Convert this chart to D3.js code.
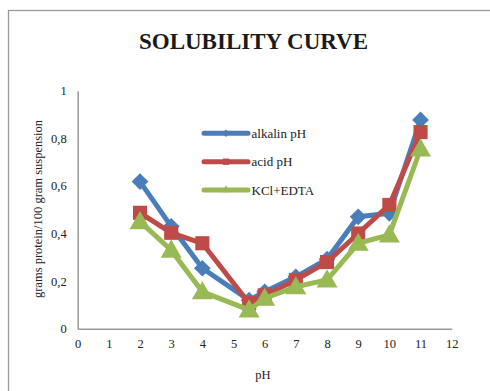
<!DOCTYPE html>
<html>
<head>
<meta charset="utf-8">
<script src="https://cdn.jsdelivr.net/npm/d3@7"></script>
<style>
  html, body { margin: 0; padding: 0; background: #fff; }
  svg { display: block; }
</style>
</head>
<body>
<svg id="chart" width="490" height="391"></svg>
<script>
// pH values at which solubility was measured
const phValues = [2, 3, 4, 5.5, 6, 7, 8, 9, 10, 11];
// grams protein / 100 gram suspension for each extraction
const alkalinValues = [0.618, 0.43, 0.254, 0.12, 0.155, 0.218, 0.292, 0.47, 0.485, 0.877];
const acidValues    = [0.487, 0.403, 0.359, 0.107, 0.14, 0.205, 0.28, 0.40, 0.52, 0.826];
const kclEdtaValues = [0.45, 0.33, 0.155, 0.079, 0.128, 0.176, 0.205, 0.359, 0.394, 0.755];
const seriesNames = ["alkalin pH", "acid pH", "KCl+EDTA"];
const xTicks = [0, 1, 2, 3, 4, 5, 6, 7, 8, 9, 10, 11, 12];
const yTicks = [0, 0.2, 0.4, 0.6, 0.8, 1];

const svg = d3.select("#chart");
const font = "'Liberation Serif', 'Times New Roman', serif";

// chart area frame
svg.append("rect")
  .attr("x", 8.5).attr("y", 10.5)
  .attr("width", 500).attr("height", 400)
  .attr("fill", "#fff").attr("stroke", "#9a9a9a").attr("stroke-width", 1.3);

const x = d3.scaleLinear().domain([0, 12]).range([77.7, 451.7]);
const y = d3.scaleLinear().domain([0, 1]).range([328.7, 90.7]);

svg.append("text")
  .attr("x", 253.5).attr("y", 49)
  .attr("text-anchor", "middle")
  .attr("font-family", font).attr("font-weight", "bold").attr("font-size", 23)
  .attr("fill", "#1a1a1a")
  .text("SOLUBILITY CURVE");

// axes
const fmt = d => d === 0 || d === 1 ? String(d) : d.toFixed(1).replace(".", ",");
const yAxis = svg.append("g").attr("transform", `translate(${x(0)},0)`)
  .call(d3.axisLeft(y).tickValues(yTicks).tickSize(0).tickPadding(11).tickFormat(fmt));
const xAxis = svg.append("g").attr("transform", `translate(0,${y(0)})`)
  .call(d3.axisBottom(x).tickValues(xTicks).tickSize(0).tickPadding(10).tickFormat(d3.format("d")));
[xAxis, yAxis].forEach(g => {
  g.select(".domain").attr("stroke", "#9a9a9a").attr("stroke-width", 1.5);
  g.selectAll("text").attr("font-family", font).attr("font-size", 12.5).attr("fill", "#222");
});

svg.append("text")
  .attr("transform", `translate(42,209) rotate(-90)`)
  .attr("text-anchor", "middle")
  .attr("font-family", font).attr("font-size", 12.5).attr("fill", "#222")
  .text("grams protein/100 gram suspension");

svg.append("text")
  .attr("x", 263).attr("y", 379)
  .attr("text-anchor", "middle")
  .attr("font-family", font).attr("font-size", 12.5).attr("fill", "#222")
  .text("pH");

const colors = ["#4A7EBB", "#BE4B48", "#98B954"];
// diamond = square turned 45 degrees
const shapes = [d3.symbolSquare, d3.symbolSquare, d3.symbolTriangle];
const rotations = [45, 0, 0];
const sizes = [140, 200, 190];
const allValues = [alkalinValues, acidValues, kclEdtaValues];

const line = d3.line().x(d => x(d[0])).y(d => y(d[1]));

allValues.forEach((vals, i) => {
  const pts = phValues.map((p, j) => [p, vals[j]]);
  const g = svg.append("g");
  g.append("path")
    .attr("d", line(pts))
    .attr("fill", "none").attr("stroke", colors[i])
    .attr("stroke-width", 5).attr("stroke-linejoin", "round");
  g.selectAll("path.m").data(pts).join("path")
    .attr("class", "m")
    .attr("transform", d => `translate(${x(d[0])},${y(d[1]) + (i === 2 ? 1.5 : 0)}) rotate(${rotations[i]})`)
    .attr("d", d3.symbol().type(shapes[i]).size(sizes[i]))
    .attr("fill", colors[i]);
});

// legend
const legendY = [133.3, 161.7, 190];
seriesNames.forEach((name, i) => {
  const g = svg.append("g");
  g.append("line")
    .attr("x1", 204).attr("x2", 248)
    .attr("y1", legendY[i]).attr("y2", legendY[i])
    .attr("stroke", colors[i]).attr("stroke-width", 5).attr("stroke-linecap", "round");
  g.append("path")
    .attr("transform", `translate(226,${legendY[i]}) rotate(${rotations[i]})`)
    .attr("d", d3.symbol().type(shapes[i]).size(i === 1 ? 40 : 28))
    .attr("fill", colors[i]);
  g.append("text")
    .attr("x", 251.5).attr("y", legendY[i] + 4.5)
    .attr("font-family", font).attr("font-size", 13).attr("fill", "#222")
    .text(name);
});
</script>
</body>
</html>
